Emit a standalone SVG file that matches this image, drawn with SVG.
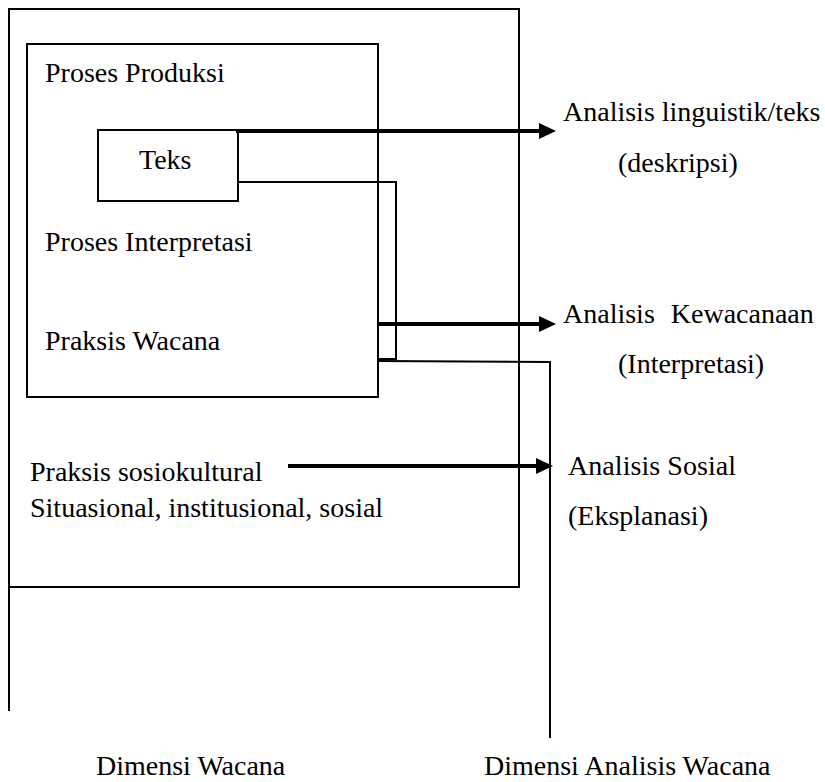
<svg xmlns="http://www.w3.org/2000/svg" width="825" height="782" viewBox="0 0 825 782">
<style>
  .box { fill: none; stroke: #000; stroke-width: 2; }
  .thin { fill: none; stroke: #000; stroke-width: 2; }
  .thick { fill: none; stroke: #000; stroke-width: 4; }
  .head { fill: #000; }
  text { font-family: "Liberation Serif", "Times New Roman", serif; font-size: 28px; fill: #000; }
</style>
<rect width="825" height="782" fill="#fff"/>
<g id="dimensi-wacana">
  <rect class="box" x="9" y="9" width="510" height="578"/>
  <line class="thin" x1="9" y1="587" x2="9" y2="711"/>
  <text x="96" y="775">Dimensi Wacana</text>
</g>
<g id="praksis-wacana">
  <rect class="box" x="27" y="44" width="351" height="353"/>
  <text x="45" y="82">Proses Produksi</text>
  <text x="45" y="251">Proses Interpretasi</text>
  <text x="45" y="350">Praksis Wacana</text>
</g>
<g id="teks">
  <rect class="box" x="98" y="130" width="140" height="71"/>
  <text x="139" y="169">Teks</text>
</g>
<g id="praksis-sosiokultural">
  <text x="30" y="481">Praksis sosiokultural</text>
  <text x="30" y="517">Situasional, institusional, sosial</text>
</g>
<g id="analisis-teks">
  <text x="563" y="121">Analisis linguistik/teks</text>
  <text x="618" y="172">(deskripsi)</text>
</g>
<g id="analisis-kewacanaan">
  <text x="563" y="323">Analisis <tspan dx="9">Kewacanaan</tspan></text>
  <text x="618" y="373">(Interpretasi)</text>
</g>
<g id="analisis-sosial">
  <text x="568" y="475" textLength="168">Analisis Sosial</text>
  <text x="568" y="525">(Eksplanasi)</text>
</g>
<g id="dimensi-analisis">
  <text x="484" y="775">Dimensi Analisis Wacana</text>
</g>
<g id="connectors">
  <line class="thick" x1="236" y1="131" x2="541" y2="131"/>
  <polygon class="head" points="539,123 556,131 539,139"/>
  <polyline class="thin" points="238,182 396,182 396,359 378,359"/>
  <polyline class="thin" points="378,361 550,362 550,738"/>
  <line class="thick" x1="378" y1="324" x2="541" y2="324"/>
  <polygon class="head" points="539,316 556,324 539,332"/>
  <line class="thick" x1="288" y1="466" x2="538" y2="466"/>
  <polygon class="head" points="536,458 553,466 536,474"/>
</g>
</svg>
